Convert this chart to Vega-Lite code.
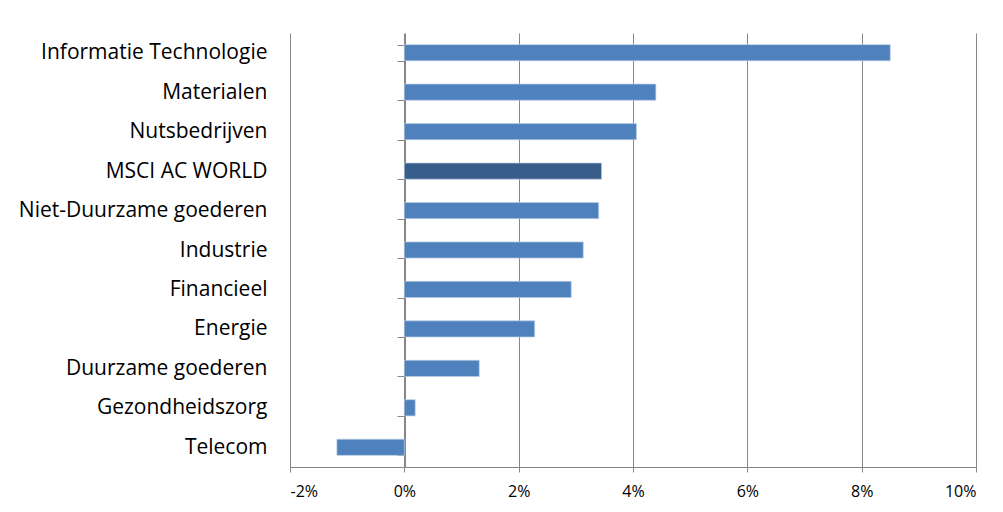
{
  "$schema": "https://vega.github.io/schema/vega-lite/v6.json",
  "width": 686,
  "height": 434,
  "autosize": "none",
  "padding": {"left": 290, "top": 33, "right": 27, "bottom": 45},
  "background": "white",
  "config": {"view": {"stroke": null}},
  "data": {
    "values": [
      {"sector": "Informatie Technologie", "value": 0.0850, "type": "sector"},
      {"sector": "Materialen", "value": 0.0440, "type": "sector"},
      {"sector": "Nutsbedrijven", "value": 0.0406, "type": "sector"},
      {"sector": "MSCI AC WORLD", "value": 0.0345, "type": "index"},
      {"sector": "Niet-Duurzame goederen", "value": 0.0340, "type": "sector"},
      {"sector": "Industrie", "value": 0.0313, "type": "sector"},
      {"sector": "Financieel", "value": 0.0292, "type": "sector"},
      {"sector": "Energie ", "value": 0.0228, "type": "sector"},
      {"sector": "Duurzame goederen", "value": 0.0131, "type": "sector"},
      {"sector": "Gezondheidszorg", "value": 0.0019, "type": "sector"},
      {"sector": "Telecom", "value": -0.0118, "type": "sector"}
    ]
  },
  "mark": {"type": "bar", "strokeWidth": 1, "stroke": "#B9CDE5", "strokeOpacity": 0.7},
  "encoding": {
    "y": {
      "field": "sector",
      "type": "nominal",
      "sort": null,
      "scale": {"paddingInner": 0.59, "paddingOuter": 0.295},
      "axis": {
        "title": null,
        "offset": -115,
        "domain": true,
        "domainColor": "#868686",
        "ticks": true,
        "tickColor": "#868686",
        "tickSize": 8,
        "tickBand": "extent",
        "labelPadding": 130,
        "labelFont": "Open Sans",
        "labelFontSize": 21,
        "labelColor": "#000000",
        "labelLimit": 400,
        "grid": false
      }
    },
    "x": {
      "field": "value",
      "type": "quantitative",
      "scale": {"domain": [-0.02, 0.10], "nice": false},
      "axis": {
        "title": null,
        "values": [-0.02, 0, 0.02, 0.04, 0.06, 0.08, 0.10],
        "format": ".0%",
        "labelExpr": "replace(datum.label, '\u2212', '-')",
        "grid": true,
        "gridColor": "#868686",
        "gridOpacity": 1,
        "domainColor": "#868686",
        "tickColor": "#868686",
        "tickSize": 5,
        "labelFont": "Open Sans",
        "labelFontSize": 16,
        "labelColor": "#000000",
        "labelPadding": 11
      }
    },
    "color": {
      "field": "type",
      "type": "nominal",
      "scale": {"domain": ["sector", "index"], "range": ["#4F81BD", "#385D8A"]},
      "legend": null
    }
  }
}
